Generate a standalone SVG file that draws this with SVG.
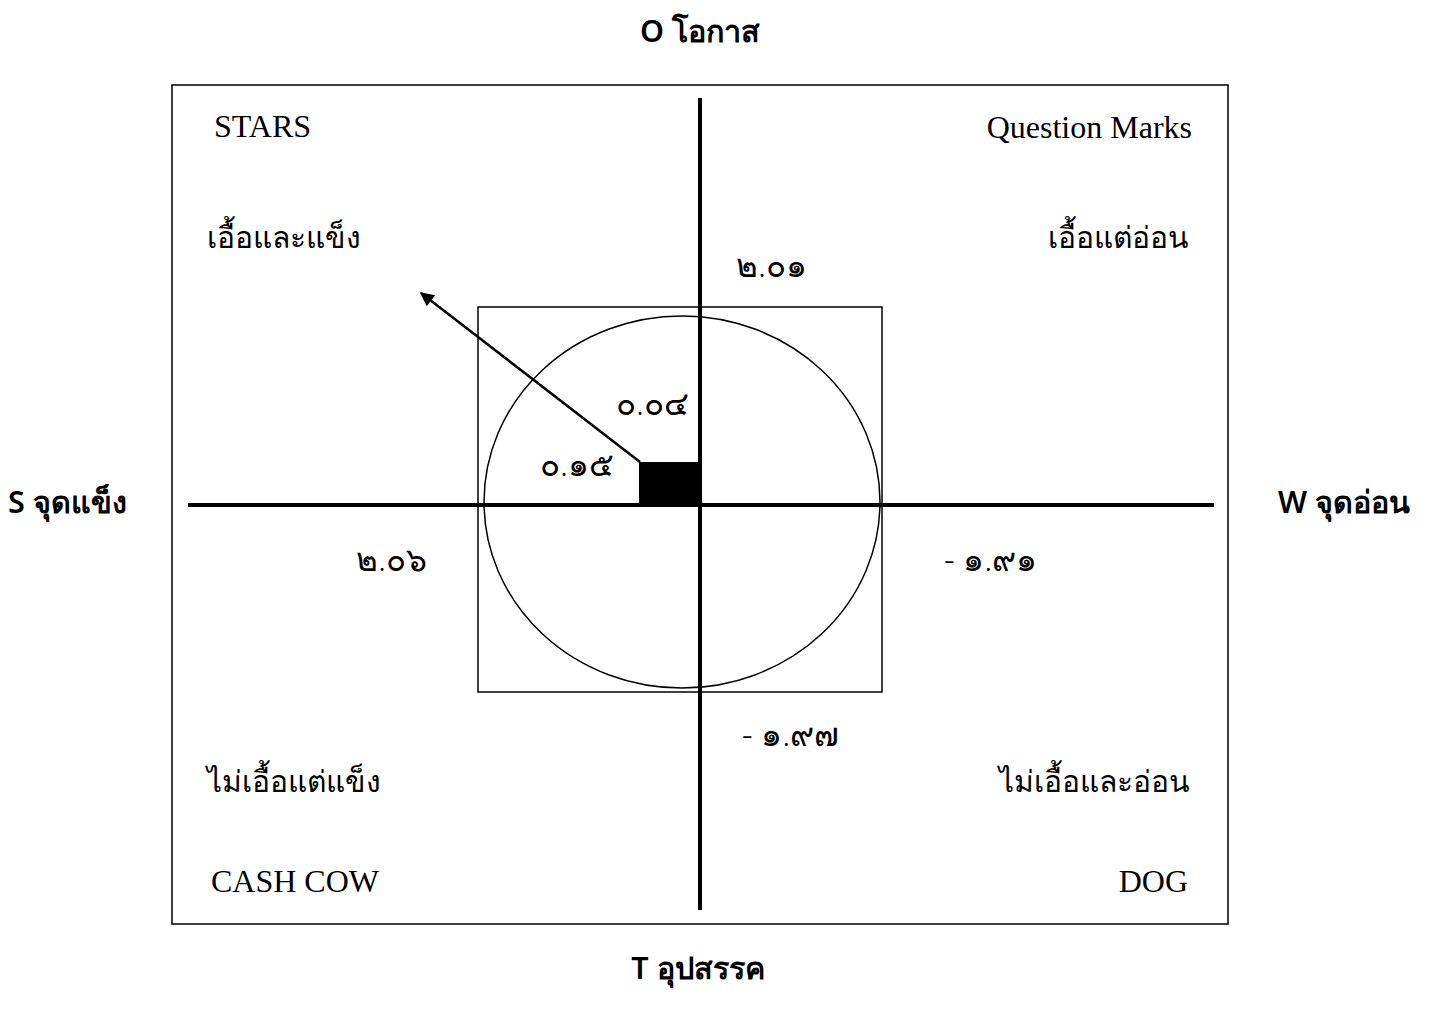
<svg xmlns="http://www.w3.org/2000/svg" width="1432" height="1010" viewBox="0 0 1432 1010">
<style>
.axis{font-family:"Noto Sans","DejaVu Sans",sans-serif;font-size:30.5px;font-weight:600;fill:#000}
.en{font-family:"Liberation Serif",serif;font-size:32px;fill:#000}
.th{font-family:"Noto Sans","DejaVu Sans",sans-serif;font-size:30px;fill:#000}
.num{font-family:"Noto Sans","DejaVu Sans",sans-serif;font-size:33px;font-weight:300;fill:#000}
.thin{fill:none;stroke:#000;stroke-width:1.5}
</style>
<defs>
<marker id="ah" viewBox="0 0 10 10" refX="9" refY="5" markerWidth="18" markerHeight="14" orient="auto" markerUnits="userSpaceOnUse">
<path d="M0,0 L10,5 L0,10 z" fill="#000"/>
</marker>
</defs>
<rect width="1432" height="1010" fill="#fff"/>
<g id="frame"><rect x="172" y="85" width="1056" height="839" class="thin"/></g>
<g id="inner-square"><rect x="478" y="307" width="404" height="385" class="thin"/></g>
<g id="circle"><ellipse cx="682" cy="502" rx="198" ry="186" class="thin"/></g>
<g id="connectors">
<line x1="700" y1="98" x2="700" y2="910" stroke="#000" stroke-width="4"/>
<line x1="188" y1="505" x2="1214" y2="505" stroke="#000" stroke-width="4"/>
<line x1="640" y1="462" x2="421" y2="293" stroke="#000" stroke-width="2.5" marker-end="url(#ah)"/>
</g>
<g id="vector-box"><rect x="639" y="462" width="61" height="43" fill="#000"/></g>
<g id="labels-axes">
<text class="axis" x="700" y="42" text-anchor="middle">O โอกาส</text>
<text class="axis" x="8" y="513">S จุดแข็ง</text>
<text class="axis" x="1278" y="513">W จุดอ่อน</text>
<text class="axis" x="698" y="979" text-anchor="middle">T อุปสรรค</text>
</g>
<g id="quadrant-stars">
<text class="en" x="214" y="137">STARS</text>
<text class="th" x="207" y="248">เอื้อและแข็ง</text>
</g>
<g id="quadrant-question">
<text class="en" x="1192" y="138" text-anchor="end">Question Marks</text>
<text class="th" x="1189" y="248" text-anchor="end">เอื้อแต่อ่อน</text>
</g>
<g id="quadrant-cashcow">
<text class="th" x="207" y="792">ไม่เอื้อแต่แข็ง</text>
<text class="en" x="211" y="892">CASH COW</text>
</g>
<g id="quadrant-dog">
<text class="th" x="1190" y="792" text-anchor="end">ไม่เอื้อและอ่อน</text>
<text class="en" x="1188" y="892" text-anchor="end">DOG</text>
</g>
<g id="values">
<text class="num" x="736" y="277">๒.๐๑</text>
<text class="num" x="616" y="415">๐.๐๔</text>
<text class="num" x="540" y="476">๐.๑๕</text>
<text class="num" x="356" y="571">๒.๐๖</text>
<text class="num" x="944" y="571">- ๑.๙๑</text>
<text class="num" x="742" y="746">- ๑.๙๗</text>
</g>
</svg>
